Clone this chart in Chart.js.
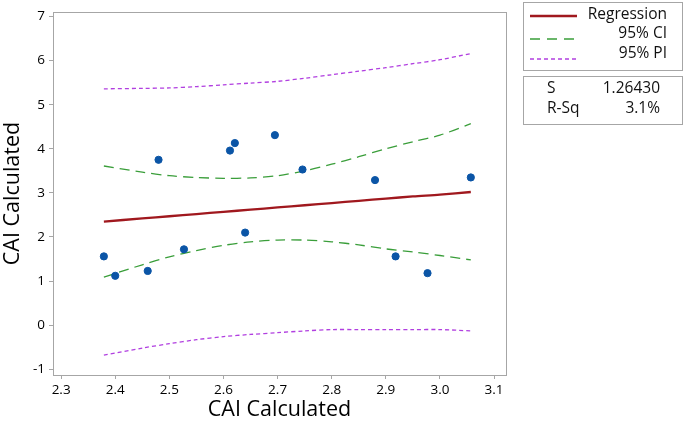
<!DOCTYPE html>
<html>
<head>
<meta charset="utf-8">
<script src="https://cdn.jsdelivr.net/npm/chart.js@4"></script>
<style>
  html, body { margin: 0; padding: 0; background: #fff; }
  #wrap { width: 685px; height: 423px; }
</style>
</head>
<body>
<div id="wrap"><canvas id="chart" width="685" height="423"></canvas></div>
<script>
// observed points
const obsX = [2.379, 2.400, 2.460, 2.480, 2.527, 2.612, 2.621, 2.640, 2.695, 2.746, 2.880, 2.918, 2.977, 3.057];
const obsY = [1.56, 1.12, 1.23, 3.75, 1.72, 3.96, 4.13, 2.10, 4.31, 3.53, 3.29, 1.56, 1.18, 3.35];

// fitted line and bands
const fitX = [2.379, 2.45, 2.5, 2.55, 2.6, 2.65, 2.7, 2.75, 2.8, 2.85, 2.9, 2.95, 3.0, 3.057];
const regY = [2.35, 2.42, 2.47, 2.52, 2.57, 2.62, 2.67, 2.72, 2.77, 2.82, 2.87, 2.92, 2.96, 3.02];
const ciUp = [3.61, 3.47, 3.39, 3.35, 3.33, 3.34, 3.39, 3.50, 3.65, 3.82, 4.00, 4.16, 4.31, 4.57];
const ciLo = [1.09, 1.37, 1.55, 1.69, 1.81, 1.89, 1.93, 1.93, 1.89, 1.82, 1.73, 1.66, 1.58, 1.48];
const piUp = [5.36, 5.37, 5.38, 5.41, 5.45, 5.49, 5.53, 5.60, 5.68, 5.76, 5.84, 5.93, 6.02, 6.16];
const piLo = [-0.68, -0.52, -0.42, -0.33, -0.26, -0.21, -0.17, -0.13, -0.10, -0.10, -0.10, -0.10, -0.10, -0.13];

const xTicks = [2.3, 2.4, 2.5, 2.6, 2.7, 2.8, 2.9, 3.0, 3.1];
const yTicks = [-1, 0, 1, 2, 3, 4, 5, 6, 7];

const stats = [['S', '1.26430'], ['R-Sq', '3.1%']];

const FONT = '"Open Sans", "Noto Sans", sans-serif';
const pts = (xs, ys) => xs.map((x, i) => ({ x: x, y: ys[i] }));

const lineSet = (label, ys, color, dash, width) => ({
    label: label,
    data: pts(fitX, ys),
    showLine: true,
    borderColor: color,
    borderWidth: width,
    borderDash: dash,
    pointRadius: 0,
    tension: 0.3,
    fill: false,
});

// frame + legend boxes
const boxPlugin = {
    id: 'boxes',
    afterDraw(chart) {
        const ctx = chart.ctx;
        const a = chart.chartArea;
        ctx.save();
        ctx.strokeStyle = '#a6a6a6';
        ctx.lineWidth = 1;
        ctx.strokeRect(Math.round(a.left) + 0.5, Math.round(a.top) + 0.5,
            Math.round(a.right - a.left), Math.round(a.bottom - a.top));

        ctx.strokeRect(523.5, 2.5, 159, 68);
        ctx.strokeRect(523.5, 76.5, 159, 48);

        const keys = [
            ['Regression', '#a0181e', [], 2.5, 16, 15],
            ['95% CI', '#3a9e3a', [10, 7], 1.3, 39, 34],
            ['95% PI', '#b13fe0', [4, 3], 1.3, 59, 54],
        ];
        ctx.font = '15.5px ' + FONT;
        ctx.fillStyle = '#111';
        ctx.textBaseline = 'middle';
        keys.forEach(k => {
            ctx.beginPath();
            ctx.strokeStyle = k[1];
            ctx.lineWidth = k[3];
            ctx.setLineDash(k[2]);
            ctx.moveTo(530, k[4]);
            ctx.lineTo(577, k[4]);
            ctx.stroke();
            ctx.setLineDash([]);
            ctx.textAlign = 'right';
            ctx.fillText(k[0], 667, k[5]);
        });
        stats.forEach((s, i) => {
            const y = 89 + i * 20;
            ctx.textAlign = 'left';
            ctx.fillText(s[0], 547, y);
            ctx.textAlign = 'right';
            ctx.fillText(s[1], 660, y);
        });
        ctx.restore();
    }
};

const ctx = document.getElementById('chart').getContext('2d');
new Chart(ctx, {
    type: 'scatter',
    data: {
        datasets: [
            {
                label: 'Observed',
                data: pts(obsX, obsY),
                backgroundColor: '#0b55a6',
                borderColor: '#0b55a6',
                pointRadius: 3.6,
                order: 0,
            },
            lineSet('Regression', regY, '#a0181e', [], 2.3),
            lineSet('95% CI upper', ciUp, '#3a9e3a', [10, 6], 1.3),
            lineSet('95% CI lower', ciLo, '#3a9e3a', [10, 6], 1.3),
            lineSet('95% PI upper', piUp, '#b13fe0', [4, 3], 1.3),
            lineSet('95% PI lower', piLo, '#b13fe0', [4, 3], 1.3),
        ],
    },
    options: {
        responsive: false,
        animation: false,
        devicePixelRatio: 1,
        layout: { padding: { top: 3, right: 179, left: 0, bottom: 0 } },
        plugins: {
            legend: { display: false },
            tooltip: { enabled: false },
        },
        scales: {
            x: {
                type: 'linear',
                min: 2.285,
                max: 3.122,
                afterBuildTicks: s => { s.ticks = xTicks.map(v => ({ value: v })); },
                afterFit: s => { s.height = 48; },
                grid: { display: true, drawOnChartArea: false, drawTicks: true, tickLength: 4, color: '#a6a6a6' },
                border: { color: '#a6a6a6' },
                ticks: {
                    padding: 3,
                    color: '#000',
                    font: { family: FONT, size: 13.5 },
                    maxRotation: 0,
                    callback: v => Number(v).toFixed(1),
                },
                title: {
                    display: true,
                    text: 'CAI Calculated',
                    color: '#000',
                    font: { family: FONT, size: 21.5 },
                    padding: { top: 0, bottom: 0 },
                },
            },
            y: {
                type: 'linear',
                min: -1.13,
                max: 7.1,
                afterBuildTicks: s => { s.ticks = yTicks.map(v => ({ value: v })); },
                afterFit: s => { s.width = 53; },
                grid: { display: true, drawOnChartArea: false, drawTicks: true, tickLength: 4, color: '#a6a6a6' },
                border: { color: '#a6a6a6' },
                ticks: {
                    padding: 4,
                    color: '#000',
                    font: { family: FONT, size: 13.5 },
                    callback: v => String(v),
                },
                title: {
                    display: true,
                    text: 'CAI Calculated',
                    color: '#000',
                    font: { family: FONT, size: 21.5 },
                    padding: { top: 0, bottom: 0 },
                },
            },
        },
    },
    plugins: [boxPlugin],
});
</script>
</body>
</html>
